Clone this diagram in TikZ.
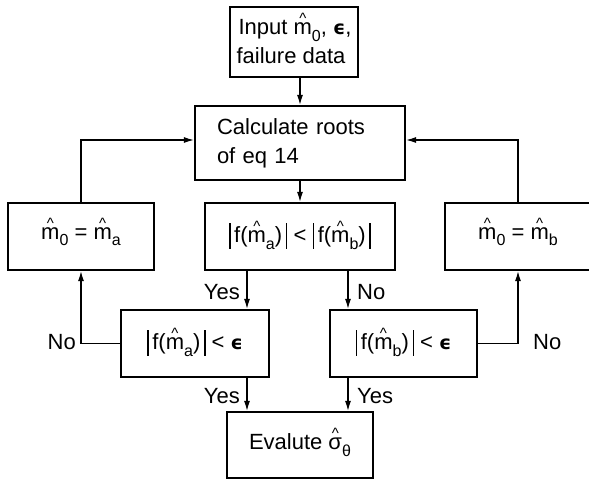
\documentclass[tikz,border=0pt]{standalone}
\usepackage{fontspec}
\setmainfont{Liberation Sans}
\newfontfamily\dvfont{DejaVu Sans}
\usetikzlibrary{arrows.meta}
\newcommand\bigfont{\fontsize{22}{29}\selectfont}
\newcommand\hatover[1]{\ooalign{#1\cr\hidewidth\raisebox{11pt}{\fontsize{15}{15}\selectfont\textasciicircum}\hidewidth\cr}}
\newcommand\hm{\hatover{m}}
\newcommand\sub[1]{\raisebox{-0.3em}{\fontsize{16}{16}\selectfont #1}}
\newcommand\eps{{\dvfont\bfseries\fontsize{19}{19}\selectfont ϵ}}
\newcommand\vbr{\rule[-0.26em]{1.6pt}{1.15em}}
\begin{document}
\begin{tikzpicture}[x=1pt,y=-1pt,
  box/.style={draw, line width=2.2pt, inner sep=0pt, font=\bigfont},
  arr/.style={line width=1.2pt, -{Latex[length=10pt,width=6pt]}},
  lbl/.style={font=\bigfont, inner sep=0pt}]
\useasboundingbox (0,0) rectangle (589,480);
% boxes
\node[box, minimum width=128pt, minimum height=70pt, align=left] (inp) at (294,42)
  {\hspace*{2pt}Input \hm\sub{0}, \eps,\\failure data};
\node[box, minimum width=210pt, minimum height=74pt, text width=166pt, align=left] (calc) at (300,143)
  {Calculate roots\\of eq 14};
\node[box, minimum width=146pt, minimum height=67pt] (ma) at (81,236.5)
  {\hm\sub{0} = \hm\sub{a}};
\node[box, minimum width=190pt, minimum height=67pt] (cmp) at (300,236.5)
  {\vbr\,f(\hm\sub{a})\,\vbr{} < \vbr\,f(\hm\sub{b})\,\vbr};
\node[box, minimum width=146pt, minimum height=67pt] (mb) at (518,236.5)
  {\hm\sub{0} = \hm\sub{b}};
\node[box, minimum width=148pt, minimum height=67pt] (fa) at (195,343.5)
  {\vbr\,f(\hm\sub{a})\,\vbr{} < \eps};
\node[box, minimum width=147pt, minimum height=67pt] (fb) at (403.5,343.5)
  {\vbr\,f(\hm\sub{b})\,\vbr{} < \eps};
\node[box, minimum width=146pt, minimum height=66pt] (ev) at (300,445)
  {Evalute \hatover{σ}\sub{θ}};
% helper coordinates
\coordinate (xa) at (247,0);
\coordinate (xb) at (348,0);
\coordinate (loopy) at (0,140);
% connectors
\draw[arr] (inp.south -| calc.north) -- (calc.north);
\draw[arr] (calc.south) -- (cmp.north);
\draw[arr] (ma.north) |- (loopy -| calc.west);
\draw[arr] (mb.north) |- (loopy -| calc.east);
\draw[arr] (cmp.south -| xa) -- (fa.north -| xa);
\draw[arr] (cmp.south -| xb) -- (fb.north -| xb);
\draw[arr] (fa.west) -| (ma.south);
\draw[arr] (fb.east) -| (mb.south);
\draw[arr] (fa.south -| xa) -- (ev.north -| xa);
\draw[arr] (fb.south -| xb) -- (ev.north -| xb);
% labels
\node[lbl, anchor=east] (y1) at (240,292) {Yes};
\node[lbl, anchor=west] (n1) at (357,292) {No};
\node[lbl, anchor=east] (y2) at (240,396) {Yes};
\node[lbl, anchor=west] (y3) at (357,396) {Yes};
\node[lbl, anchor=east] (n2) at (76,342) {No};
\node[lbl, anchor=west] (n3) at (533,342) {No};
\end{tikzpicture}
\end{document}
